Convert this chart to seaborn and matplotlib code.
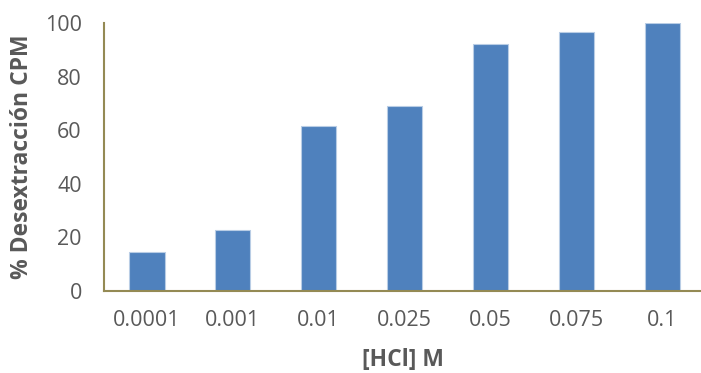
import matplotlib
matplotlib.use('Agg')
import matplotlib.pyplot as plt
import seaborn as sns
import pandas as pd

concentrations = ['0.0001', '0.001', '0.01', '0.025', '0.05', '0.075', '0.1']
desextraccion = [14.5, 22.9, 61.4, 69.2, 92.3, 96.6, 100.0]

df = pd.DataFrame({'conc': concentrations, 'pct': desextraccion})

sns.set_style('white')
plt.rcParams['font.family'] = ['Open Sans', 'DejaVu Sans']

axis_color = '#948A54'
text_color = '#595959'
bar_color = '#4F81BD'

fig = plt.figure(figsize=(7.01, 3.73), dpi=100)
ax = fig.add_axes([104 / 701, 82 / 373, 597 / 701, 268 / 373])

sns.barplot(data=df, x='conc', y='pct', ax=ax, color=bar_color, saturation=1,
            width=0.41, edgecolor='#B9CDE5', linewidth=0.8)

ax.set_ylim(0, 100)
ax.set_xlim(-0.5, 6.45)
ax.set_yticks(range(0, 101, 20))

for side in ['top', 'right']:
    ax.spines[side].set_visible(False)
for side in ['left', 'bottom']:
    ax.spines[side].set_color(axis_color)
    ax.spines[side].set_linewidth(1.5)

ax.tick_params(axis='both', colors=axis_color, length=5, width=1.5,
               labelcolor=text_color, labelsize=15.5)
ax.tick_params(axis='x', pad=9)
ax.tick_params(axis='y', pad=11)

ax.set_xlabel('[HCl] M', fontsize=16.5, fontweight='bold', color=text_color, labelpad=12)
ax.set_ylabel('% Desextracción CPM', fontsize=16.5, fontweight='bold', color=text_color, labelpad=8)

fig.savefig('out.png', dpi=100)
